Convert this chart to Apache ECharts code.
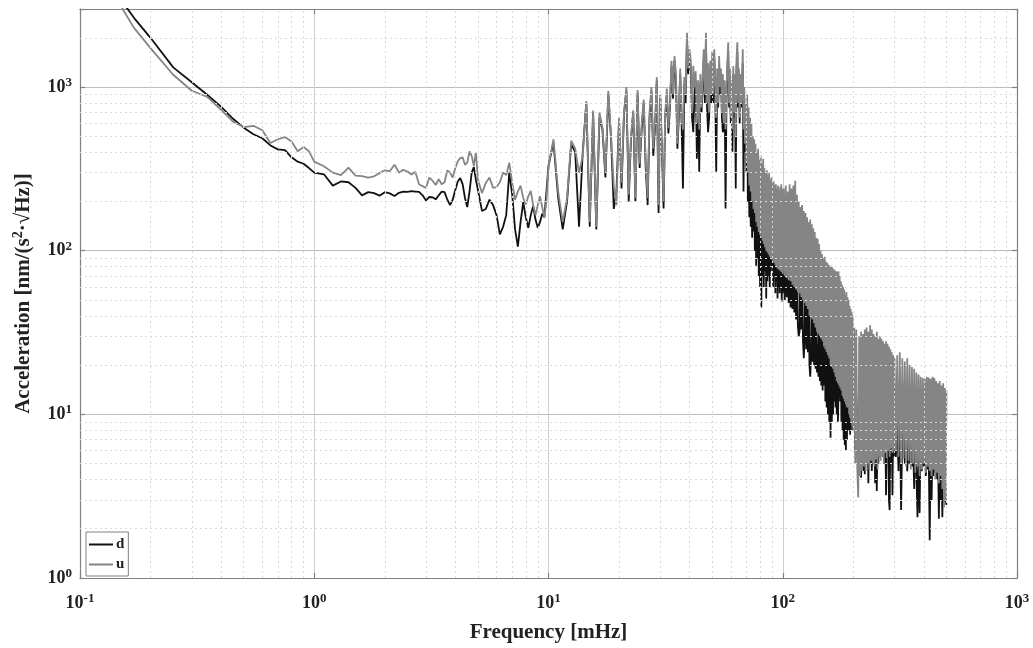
<!DOCTYPE html>
<html><head><meta charset="utf-8">
<script src="https://cdn.jsdelivr.net/npm/echarts@6/dist/echarts.min.js"></script>
<style>html,body{margin:0;padding:0;background:#fff}#c{width:1033px;height:648px}</style>
</head><body><div id="c"></div>
<script>
// ---- frequency segments [mHz] ----
const fLow = [0.15,0.17,0.2,0.25,0.3,0.35,0.4,0.45,0.5,0.55,0.6,0.65,0.7,0.75,0.8,0.85,0.9,0.95,1.0,
1.1,1.2,1.3,1.4,1.5,1.6,1.7,1.8,1.9,2.0,2.1,2.2,2.3,2.4,2.5,2.6,2.7,2.8,2.9,3.0,3.1,3.2,3.3,3.4,3.5,3.6,3.7,3.8,3.9,4.0,4.1,4.2,4.3,4.4,4.5,4.6,4.7,4.8,4.9,5.0,
5.2,5.4,5.6,5.8,6.0,6.2,6.4,6.6,6.8,7.0,7.2,7.4,7.6,7.8,8.0,8.2,8.4,8.6,8.8,9.0,9.2,9.4,9.6,9.8,10.0,
10.5,11,11.5,12,12.5,13,13.5,14,14.5,15,15.5,16,16.5,17,17.5,18,18.5,19,19.5,20,20.5,21,21.5,22,22.5,23,23.5,24,24.5,25,25.5,26,26.5,27,27.5,28,28.5,29,29.5,30];
const fA = [30.5,31,31.5,32,32.5,33,33.5,34,34.5,35, 35.5,36,36.5,37,37.5,38,38.5,39,39.5,40,
40.5,41,41.5,42,42.5,43,43.5,44,44.5,45, 45.5,46,46.5,47,47.5,48,48.5,49,49.5,50,
50.5,51,51.5,52,52.5,53,53.5,54,54.5,55, 55.5,56,56.5,57,57.5,58,58.5,59,59.5,60,
60.5,61,61.5,62,62.5,63,63.5,64,64.5,65, 65.5,66,66.5,67,67.5,68,68.5,69,69.5,70];
const fB = [70.5,71,71.5,72,72.5,73,73.5,74,74.5,75, 75.5,76,76.5,77,77.5,78,78.5,79,79.5,80,
80.5,81,81.5,82,82.5,83,83.5,84,84.5,85, 85.5,86,86.5,87,87.5,88,88.5,89,89.5,90,
90.5,91,91.5,92,92.5,93,93.5,94,94.5,95, 95.5,96,96.5,97,97.5,98,98.5,99,99.5,100];
const fC = [101,102,103,104,105,106,107,108,109,110, 111,112,113,114,115,116,117,118,119,120,
121,122,123,124,125,126,127,128,129,130, 131,132,133,134,135,136,137,138,139,140,
141,142,143,144,145,146,147,148,149,150, 151,152,153,154,155,156,157,158,159,160,
161,162,163,164,165,166,167,168,169,170, 171,172,173,174,175,176,177,178,179,180,
181,182,183,184,185,186,187,188,189,190, 191,192,193,194,195,196,197,198,199,200];
const fD = [202,204,206,208,210,212,214,216,218,220, 222,224,226,228,230,232,234,236,238,240,
242,244,246,248,250,252,254,256,258,260, 262,264,266,268,270,272,274,276,278,280,
282,284,286,288,290,292,294,296,298,300];
const fE = [304,308,312,316,320,324,328,332,336,340, 344,348,352,356,360,364,368,372,376,380,
384,388,392,396,400,404,408,412,416,420, 424,428,432,436,440,444,448,452,456,460,
464,468,472,476,480,484,488,492,496,500];

// ---- series d (black) ----
const dLow = [3400,2650,2000,1320,1070,895,760,640,565,515,487,440,416,412,372,350,340,320,300,
293,250,265,262,242,218,228,225,217,228,224,216,226,230,229,231,230,229,218,203,213,212,206,218,230,228,205,190,205,235,265,278,255,210,185,230,300,325,270,235,
175,180,205,190,165,126,140,165,300,220,135,106,150,198,160,138,165,188,155,138,150,168,160,230,330,
460,210,135,200,450,400,140,400,800,140,700,135,650,550,280,900,480,180,230,620,240,680,950,200,480,700,200,920,320,560,800,320,190,650,950,380,560,1100,170,850];
const dA = [400,181,650,900,520,750,1350,850,1450,1100, 420,650,1200,600,240,1050,800,1950,1200,1500,
1300,650,530,900,1100,365,1000,304,1050,700, 1000,1500,800,1900,750,530,650,1300,800,1450,
800,1500,950,304,1150,750,1350,900,1150,650, 530,550,950,181,800,1250,1650,750,1150,600,
950,403,1200,650,1050,240,1300,1650,750,1150, 600,1050,750,900,1400,230,850,400,650,300];
const dB = [500,200,450,160,400,140,350,120,300,131, 280,100,260,81,240,90,230,70,210,60,
200,45,190,70,180,60,170,75,160,51, 155,65,150,70,145,60,140,75,135,80,
130,60,125,70,120,55,118,65,115,51, 112,60,110,55,105,62,100,49,98,55];
const dC = [140,50,135,52,130,48,128,45,125,44, 120,42,118,38,115,35,30,32,100,33,
98,28,22,30,90,25,85,24,80,20, 17,22,75,21,70,20,65,19,62,18,
27,17,58,16,54,15,50,14,46,15, 44,12,42,11,40,10,38,9,36,7.2,
35,9,34,10,33,12,32,11,31,10, 30,9,14,16.7,28,12,26,9,25,8,
24,7,23,6.5,22,6.0,21,7,20,8, 19,8,18,7.5,17,9,16,8,15,9];
const dD = [15,6,13,5.5,11,6,10,4.1,12,4.5, 11,4.3,10,5.5,9.5,3.8,11,5,10,4.5,
9,5.5,8.5,3.8,9,3.4,8,5,9,5.5, 8.5,6,9,5.5,8,5,8.5,3.2,7.5,5.5,
8,3,2.6,7.5,5,8,3.2,9,5.5,8.5];
const dE = [5.5,9,4.5,12,2.6,8.6,8,5,7.5,4.5, 7,5,8,4.8,7,3.5,6.5,4.5,2.35,6,
2.5,9.2,4.5,7,4.8,6.5,4.2,6,4.6,5.5, 1.7,6.5,3,7,4.2,6,4.4,6.5,4,6,
2.3,7.2,3,6,2.35,5,2.9,4.5,3,2.8];

// ---- series u (grey) ----
const uLow = [3100,2300,1730,1190,950,870,725,615,570,580,545,455,480,495,465,405,430,405,350,
328,300,290,322,288,286,280,285,298,310,306,335,300,312,305,292,304,255,248,242,280,268,252,274,255,262,310,300,280,320,352,368,372,335,345,405,380,330,400,270,
225,260,280,242,245,262,300,290,345,260,205,230,250,210,192,215,232,190,165,190,215,185,160,200,330,
480,230,150,210,470,420,300,380,820,150,720,140,700,560,300,950,500,250,190,650,260,700,1000,220,500,720,210,960,340,600,840,350,210,700,1000,420,600,1150,190,900];
const uA = [420,200,700,980,560,800,1450,900,1550,1200, 450,700,1300,650,550,1150,900,2150,1300,1700,
1450,700,1350,1000,1250,600,1100,550,1200,750, 1150,1700,900,2150,800,1400,700,1450,900,1650,
900,1700,1100,650,1300,800,1550,1000,1300,700, 1200,600,1100,550,900,1400,1880,800,1300,650,
1100,550,1340,700,1200,500,1500,1880,800,1300, 650,1200,800,1070,1700,550,1000,450,800,350];
const uB = [900,300,750,250,650,230,600,200,500,180, 480,170,450,150,400,140,420,130,360,125,
380,120,340,115,365,110,320,105,300,100, 310,98,290,95,300,92,270,90,280,88,
260,86,265,84,250,82,255,80,240,78, 250,77,235,76,245,75,255,74,240,72];
const uC = [240,70,250,68,230,66,255,65,240,62, 250,60,268,58,220,56,200,55,185,52,
190,50,175,48,170,46,160,44,150,40, 155,39,145,38,137,36,130,34,120,32,
118,31,110,30,100,29,95,28,90,26, 92,25,86,24,84,23,82,22,80,20,
81,19.5,79,19,77,18,76,17,75,16, 74,15.5,75,15,70,14.5,65,14,62,13,
60,12.5,58,12,54,11.5,56,11,52,11, 50,10,46,9.5,44,9,42,8.5,40,8];
const uD = [34,5,33,4.7,3.1,30,4.2,32,4.5,31, 4.8,33,4.5,34,5,32,4.6,35,5.2,33,
5,31,4.8,30,5.3,32,4.6,29,5.5,30, 5.2,29,5.6,28,5,27,5.8,28,5.4,27,
6,26,5.5,25,6.2,24,5.8,23,6,22];
const uE = [6,23,5.5,24,5,22,5.4,21,4.8,22, 5.2,20,4.6,19.5,5,19,4.4,18,4.8,17.5,
4.2,17,4.6,16.7,5,16.5,4.4,17,4.8,16.8, 4.5,16.5,4.2,17,4.6,16.7,4,16,4.4,15.5,
3.8,16,4.2,15,3.5,15.5,2.7,14.5,3,14];

// ---- grid / ticks ----
const xMinor = [0.2,0.3,0.4,0.5,0.6,0.7,0.8,0.9,2,3,4,5,6,7,8,9,20,30,40,50,60,70,80,90,200,300,400,500,600,700,800,900];
const yMinor = [2,3,4,5,6,7,8,9,20,30,40,50,60,70,80,90,200,300,400,500,600,700,800,900,2000];
const xRange = [0.1, 1000];
const yRange = [1, 3000];

const freq = [].concat(fLow, fA, fB, fC, fD, fE);
const dVals = [].concat(dLow, dA, dB, dC, dD, dE);
const uVals = [].concat(uLow, uA, uB, uC, uD, uE);

const FONT = 'Liberation Serif';
function powLabel(v) {
  const lg = Math.log10(v);
  const e = Math.round(lg);
  if (Math.abs(lg - e) > 1e-6) return '';
  return '{b|10}{s|' + e + '}';
}
const labelRich = {
  b: { fontSize: 18, fontWeight: 'bold', fontFamily: FONT, color: '#222', lineHeight: 22 },
  s: { fontSize: 13, fontWeight: 'bold', fontFamily: FONT, color: '#222', lineHeight: 12, verticalAlign: 'top' }
};
const axisLineStyle = { color: '#808080', width: 1.2 };

const chart = echarts.init(document.getElementById('c'), null, { renderer: 'canvas' });
chart.setOption({
  animation: false,
  backgroundColor: '#fff',
  grid: { left: 80, right: 16, top: 9, bottom: 67, containLabel: false },
  legend: {
    data: ['d', 'u'], orient: 'vertical', left: 86, top: 532,
    icon: 'rect', itemWidth: 24, itemHeight: 2, itemGap: 5,
    padding: [5, 4, 4, 3], borderColor: '#808080', borderWidth: 1, backgroundColor: '#fff',
    textStyle: { fontFamily: FONT, fontWeight: 'bold', fontSize: 15, lineHeight: 15, color: '#222', padding: [0, 0, 0, -2] }
  },
  xAxis: [{
    type: 'log', logBase: 10, min: xRange[0], max: xRange[1],
    name: 'Frequency [mHz]', nameLocation: 'middle', nameGap: 44,
    nameTextStyle: { fontFamily: FONT, fontWeight: 'bold', fontSize: 21, color: '#222' },
    axisLine: { show: true, lineStyle: axisLineStyle },
    axisTick: { show: true, inside: true, length: 5, lineStyle: axisLineStyle },
    axisLabel: { formatter: powLabel, rich: labelRich, margin: 14 },
    splitLine: { show: true, lineStyle: { color: '#cfcfcf', width: 1 } }
  }, {
    type: 'log', logBase: 10, min: xRange[0], max: xRange[1], position: 'top',
    axisLine: { show: true, lineStyle: axisLineStyle },
    axisTick: { show: true, inside: true, length: 5, lineStyle: axisLineStyle },
    axisLabel: { show: false }, splitLine: { show: false }
  }],
  yAxis: [{
    type: 'log', logBase: 10, min: yRange[0], max: yRange[1],
    name: '{t|Acceleration [nm/(s}{p|2}{t|·√Hz)]}', nameLocation: 'middle', nameGap: 43, nameRotate: 90,
    nameTextStyle: { rich: {
      t: { fontFamily: FONT, fontWeight: 'bold', fontSize: 21, color: '#222', lineHeight: 26 },
      p: { fontFamily: FONT, fontWeight: 'bold', fontSize: 14, color: '#222', lineHeight: 14, verticalAlign: 'top' }
    } },
    axisLine: { show: true, lineStyle: axisLineStyle },
    axisTick: { show: true, inside: true, length: 5, lineStyle: axisLineStyle },
    axisLabel: { formatter: powLabel, rich: labelRich, margin: 8 },
    splitLine: { show: true, lineStyle: { color: '#bdbdbd', width: 1 } }
  }, {
    type: 'log', logBase: 10, min: yRange[0], max: yRange[1], position: 'right',
    axisLine: { show: true, lineStyle: axisLineStyle },
    axisTick: { show: true, inside: true, length: 5, lineStyle: axisLineStyle },
    axisLabel: { show: false }, splitLine: { show: false }
  }],
  series: [
    {
      type: 'line', data: [], silent: true, z: 1, xAxisIndex: 0, yAxisIndex: 0,
      markLine: {
        silent: true, symbol: 'none', label: { show: false }, animation: false,
        lineStyle: { color: '#dadada', type: [2, 3], width: 1 },
        data: xMinor.map(v => ({ xAxis: v })).concat(yMinor.map(v => ({ yAxis: v })))
      }
    },
    {
      name: 'd', type: 'line', xAxisIndex: 0, yAxisIndex: 0, z: 3,
      data: freq.map((f, i) => [f, dVals[i]]),
      symbol: 'none', showSymbol: false, clip: true,
      lineStyle: { color: '#111', width: 1.8 }, itemStyle: { color: '#111' }
    },
    {
      name: 'u', type: 'line', xAxisIndex: 0, yAxisIndex: 0, z: 4,
      data: freq.map((f, i) => [f, uVals[i]]),
      symbol: 'none', showSymbol: false, clip: true,
      lineStyle: { color: '#858585', width: 1.8 }, itemStyle: { color: '#858585' }
    }
  ]
});
</script>
</body></html>
